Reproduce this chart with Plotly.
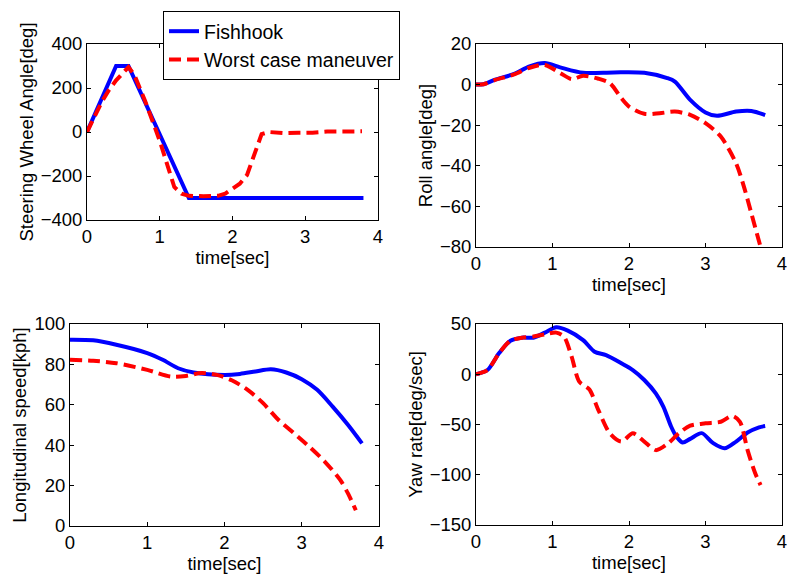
import plotly.graph_objects as go

# ---- data ----
# Steering wheel angle [deg]
t_sw_fish = [0, 0.4, 0.57, 1.4, 3.8]
sw_fish = [0, 300, 300, -300, -300]
t_sw_worst = [0, 0.1, 0.2, 0.3, 0.4, 0.5, 0.57, 0.65, 0.8, 1.0, 1.1, 1.2, 1.3, 1.4, 1.6, 1.8, 1.9, 2.0,
              2.1, 2.2, 2.3, 2.4, 2.5, 2.7, 2.9, 3.1, 3.3, 3.5, 3.78]
sw_worst = [0, 70, 135, 190, 235, 270, 295, 260, 140, -40, -150, -250, -280, -290, -292, -290, -280, -260,
            -235, -195, -100, -10, 0, -5, -3, -3, 2, 3, 3]

# Roll angle [deg]
t_roll_fish = [0, 0.1, 0.25, 0.5, 0.7, 0.9, 1.1, 1.4, 1.8, 2.2, 2.5, 2.6, 2.8, 3.0, 3.15, 3.4, 3.6, 3.78]
roll_fish = [0, 0.2, 2.4, 5.3, 9.0, 10.6, 8.5, 5.8, 6.0, 5.8, 3.2, 1.5, -7.5, -13.7, -15.4, -13.3, -13.0, -15.0]
t_roll_worst = [0, 0.1, 0.25, 0.5, 0.7, 0.9, 1.1, 1.25, 1.4, 1.6, 1.75, 1.9, 2.0, 2.2, 2.4, 2.6, 2.8,
                3.0, 3.2, 3.4, 3.5, 3.6, 3.72]
roll_worst = [0, 0.2, 2.3, 5.0, 8.3, 9.7, 5.7, 2.7, 4.3, 2.9, 0.7, -6.7, -10.8, -14.4, -14.1, -13.3, -14.9,
              -19.0, -25.6, -38.8, -50.0, -63.5, -80.0]

# Longitudinal speed [kph]
t_spd_fish = [0, 0.3, 0.6, 1.0, 1.2, 1.4, 1.6, 2.0, 2.2, 2.4, 2.6, 2.8, 3.0, 3.2, 3.4, 3.6, 3.78]
spd_fish = [92.2, 91.9, 89.7, 85.6, 82.3, 78.1, 76.0, 74.8, 75.3, 76.5, 77.6, 76.0, 72.7, 67.4, 59.1, 50.0, 40.9]
t_spd_worst = [0, 0.3, 0.6, 1.0, 1.3, 1.5, 1.7, 1.9, 2.1, 2.3, 2.5, 2.7, 2.9, 3.1, 3.3, 3.5, 3.6, 3.7]
spd_worst = [82.3, 81.8, 80.6, 77.3, 74.0, 74.3, 75.7, 74.8, 72.0, 67.4, 60.8, 52.5, 45.9, 39.2, 31.8, 22.7, 16.0, 7.8]

# Yaw rate [deg/sec]
t_yaw_fish = [0, 0.15, 0.3, 0.45, 0.6, 0.75, 0.9, 1.05, 1.2, 1.4, 1.55, 1.7, 1.9, 2.05, 2.2, 2.35, 2.45,
              2.55, 2.62, 2.7, 2.8, 2.95, 3.1, 3.25, 3.4, 3.55, 3.7, 3.78]
yaw_fish = [0, 4.2, 20.8, 33.4, 36.4, 36.4, 41.4, 46.7, 43.4, 34.0, 22.4, 19.0, 10.9, 4.2, -5.7, -19.0, -32.4,
            -52.0, -62.0, -68.0, -64.3, -58.6, -68.6, -73.7, -67.0, -58.0, -52.8, -51.5]
t_yaw_worst = [0, 0.15, 0.3, 0.45, 0.6, 0.75, 0.9, 1.05, 1.15, 1.25, 1.35, 1.48, 1.6, 1.75, 1.9, 2.05, 2.2,
               2.35, 2.5, 2.65, 2.8, 3.0, 3.2, 3.35, 3.45, 3.55, 3.65, 3.72]
yaw_worst = [0, 4.2, 20.8, 33.4, 36.4, 37.5, 39.7, 41.4, 37.4, 17.5, -7.4, -15.0, -35.7, -58.8, -67.0, -58.8,
             -67.0, -75.5, -69.5, -58.8, -51.2, -48.8, -47.3, -41.5, -47.3, -75.5, -98.6, -110.3]

series_names = ["Fishhook", "Worst case maneuver"]
y_titles = ["Steering Wheel Angle[deg]", "Roll angle[deg]", "Longitudinal speed[kph]", "Yaw rate[deg/sec]"]
x_title = "time[sec]"
y_ranges = [[-400, 400], [-80, 20], [0, 100], [-150, 50]]
y_dticks = [200, 20, 20, 50]

panels = [
    (t_sw_fish, sw_fish, t_sw_worst, sw_worst, "linear"),
    (t_roll_fish, roll_fish, t_roll_worst, roll_worst, "spline"),
    (t_spd_fish, spd_fish, t_spd_worst, spd_worst, "spline"),
    (t_yaw_fish, yaw_fish, t_yaw_worst, yaw_worst, "spline"),
]

W, H = 789, 574
# axes boxes in pixels: (left, right, top, bottom)
boxes = [(87, 378, 44, 220), (476, 782, 44, 247), (70, 379, 324, 526), (476, 782, 324, 525)]

FONT = "Liberation Sans, Arial, Helvetica, sans-serif"
FS = 18.5
fig = go.Figure()

for i, (tf, yf, tw, yw, shape) in enumerate(panels):
    xa = "x" if i == 0 else f"x{i+1}"
    ya = "y" if i == 0 else f"y{i+1}"
    fig.add_trace(go.Scatter(x=tf, y=yf, mode="lines", name=series_names[0],
                             line=dict(color="#0000ff", width=4, shape=shape, smoothing=0.8),
                             xaxis=xa, yaxis=ya, showlegend=(i == 0)))
    fig.add_trace(go.Scatter(x=tw, y=yw, mode="lines", name=series_names[1],
                             line=dict(color="#ff0000", width=4, dash="12px,6px", shape=shape, smoothing=0.8),
                             xaxis=xa, yaxis=ya, showlegend=(i == 0)))

layout = dict(
    width=W, height=H,
    margin=dict(l=0, r=0, t=0, b=0),
    paper_bgcolor="white", plot_bgcolor="white",
    font=dict(family=FONT, size=FS, color="black"),
    legend=dict(x=163 / W, y=1 - 11 / H, xanchor="left", yanchor="top",
                bordercolor="black", borderwidth=1, bgcolor="white",
                font=dict(size=19.5), itemwidth=30, tracegroupgap=0),
    showlegend=True,
)

for i, (l, r, t, b) in enumerate(boxes):
    sfx = "" if i == 0 else str(i + 1)
    layout["xaxis" + sfx] = dict(
        domain=[l / W, r / W], anchor="y" + sfx, range=[0, 4], dtick=1,
        showline=True, linecolor="black", linewidth=1, mirror="ticks",
        ticks="inside", ticklen=4, tickcolor="black", showgrid=False, zeroline=False,
        tickfont=dict(size=FS), title=dict(text=x_title, font=dict(size=FS), standoff=0),
        automargin=False,
    )
    layout["yaxis" + sfx] = dict(
        domain=[1 - b / H, 1 - t / H], anchor="x" + sfx, range=y_ranges[i], dtick=y_dticks[i],
        showline=True, linecolor="black", linewidth=1, mirror="ticks",
        ticks="inside", ticklen=4, tickcolor="black", showgrid=False, zeroline=False,
        tickfont=dict(size=FS), title=dict(text=y_titles[i], font=dict(size=FS), standoff=2),
        automargin=False,
    )

fig.update_layout(**layout)
fig.write_html("out.html")
